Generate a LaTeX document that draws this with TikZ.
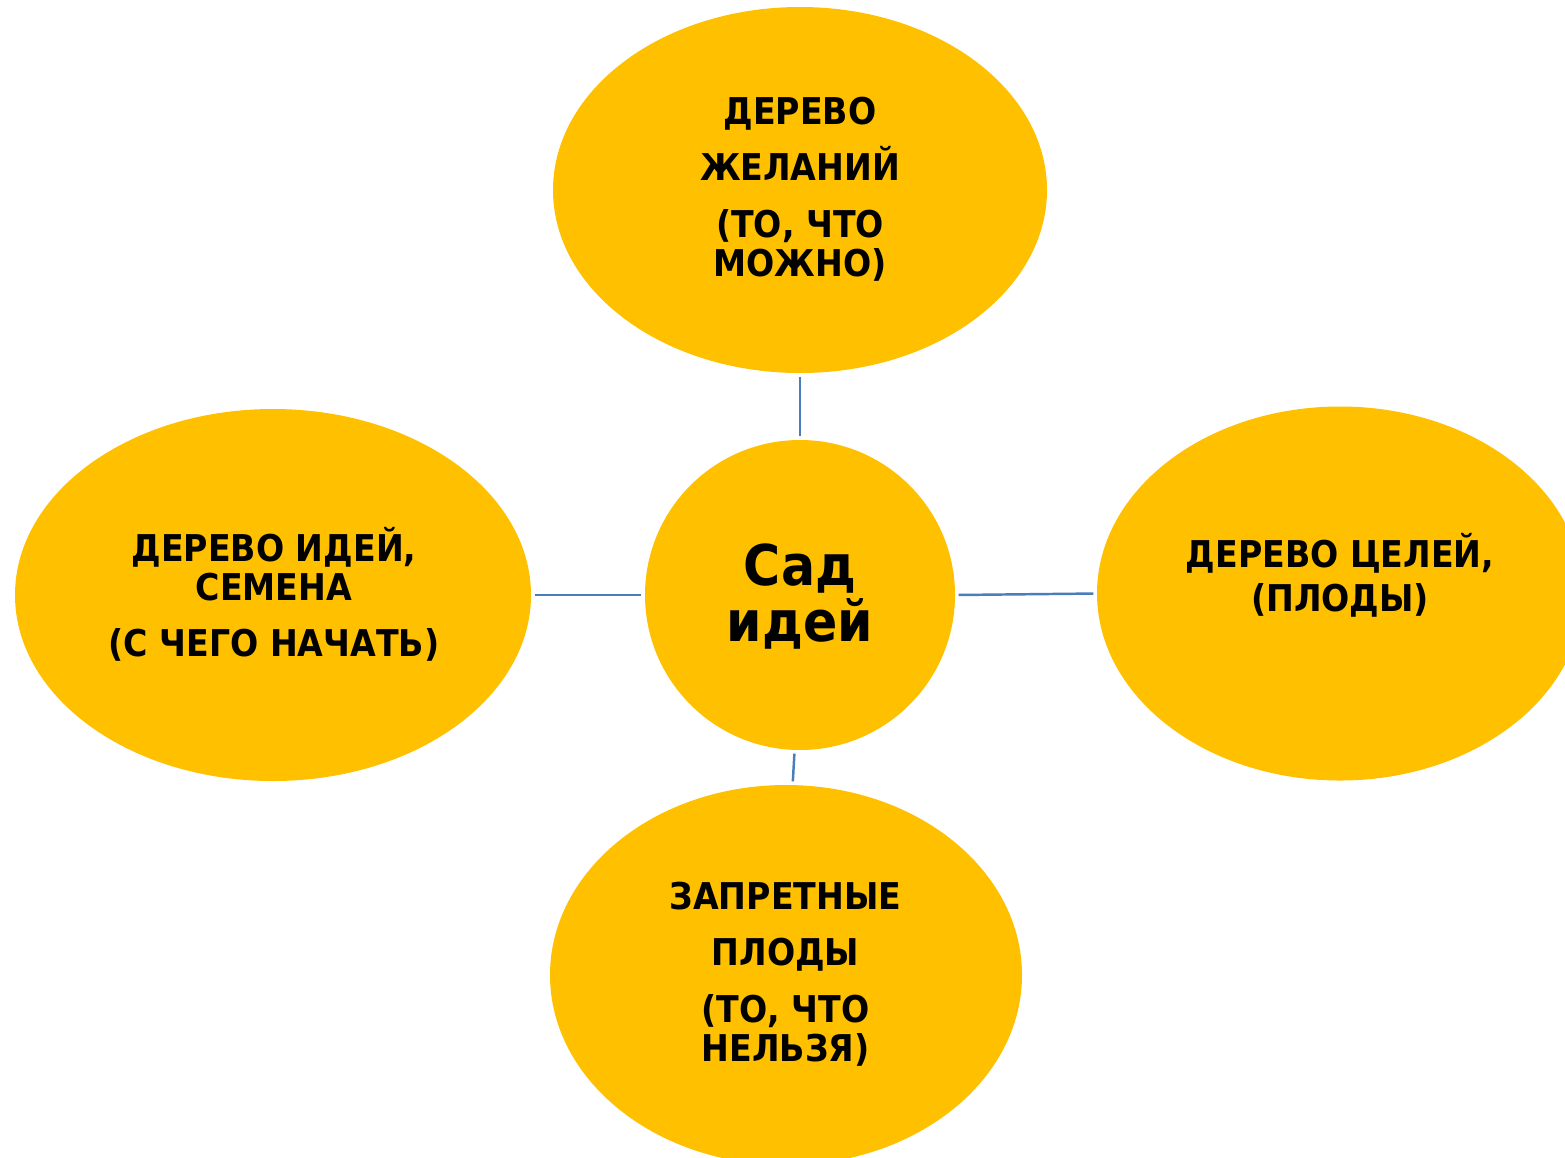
\documentclass[tikz,border=0pt]{standalone}
\usepackage{fontspec}
\setmainfont{DejaVu Sans Condensed}
\usetikzlibrary{shapes.geometric}

\definecolor{gold}{HTML}{FFC000}
\definecolor{linkblue}{HTML}{4A7EBB}
\newcommand\tightlines{\lineskiplimit=-20pt\relax}

\begin{document}
\begin{tikzpicture}[
    tree/.style={ellipse, fill=gold, inner sep=0pt},
    treetext/.style={font={\bfseries\fontsize{10.5}{11}\selectfont\tightlines}, align=center, inner sep=0pt},
    link/.style={draw=linkblue, line width=0.7pt, shorten >=0.03cm, shorten <=0.03cm}]

\useasboundingbox (0,0) rectangle (15.65,-11.57);
\clip (0,0) rectangle (15.65,-11.57);

% trees round the garden
\node [tree, minimum width=4.94cm, minimum height=3.66cm] (wishes) at (8.00,-1.90) {};
\node [tree, minimum width=5.16cm, minimum height=3.72cm] (ideas) at (2.73,-5.95) {};
\node [tree, minimum width=4.86cm, minimum height=3.74cm] (goals) at (13.40,-5.935) {};
\node [tree, minimum width=4.72cm, minimum height=3.80cm] (forbidden) at (7.86,-9.75) {};

% the garden itself
\node [circle, fill=gold, minimum size=3.10cm, inner sep=0pt] (garden) at (8.00,-5.95) {};

\node [treetext] (wishesText) at (8.00,-1.89)
    {ДЕРЕВО\\[4.9pt] ЖЕЛАНИЙ\\[5.4pt] (ТО, ЧТО\\ МОЖНО)};
\node [treetext] (ideasText) at (2.74,-5.945)
    {ДЕРЕВО ИДЕЙ,\\ СЕМЕНА\\[4.9pt] (С ЧЕГО НАЧАТЬ)};
\node [treetext] (goalsText) at (13.40,-5.755)
    {ДЕРЕВО ЦЕЛЕЙ,\\[1.5pt] (ПЛОДЫ)};
\node [treetext] (forbiddenText) at (7.855,-9.74)
    {ЗАПРЕТНЫЕ\\[4.9pt] ПЛОДЫ\\[5.2pt] (ТО, ЧТО\\ НЕЛЬЗЯ)};
\node [treetext, font={\bfseries\fontsize{16}{16.2}\selectfont\tightlines}] (gardenText) at (8.00,-5.965)
    {Сад\\ идей};

\draw [link] (wishes.south) -- (garden.north);
\draw [link] (ideas.east) -- (garden.west);
\draw [link] (garden.east) -- (goals.west);
\draw [link] (garden.268) -- (forbidden.88);

\end{tikzpicture}
\end{document}
